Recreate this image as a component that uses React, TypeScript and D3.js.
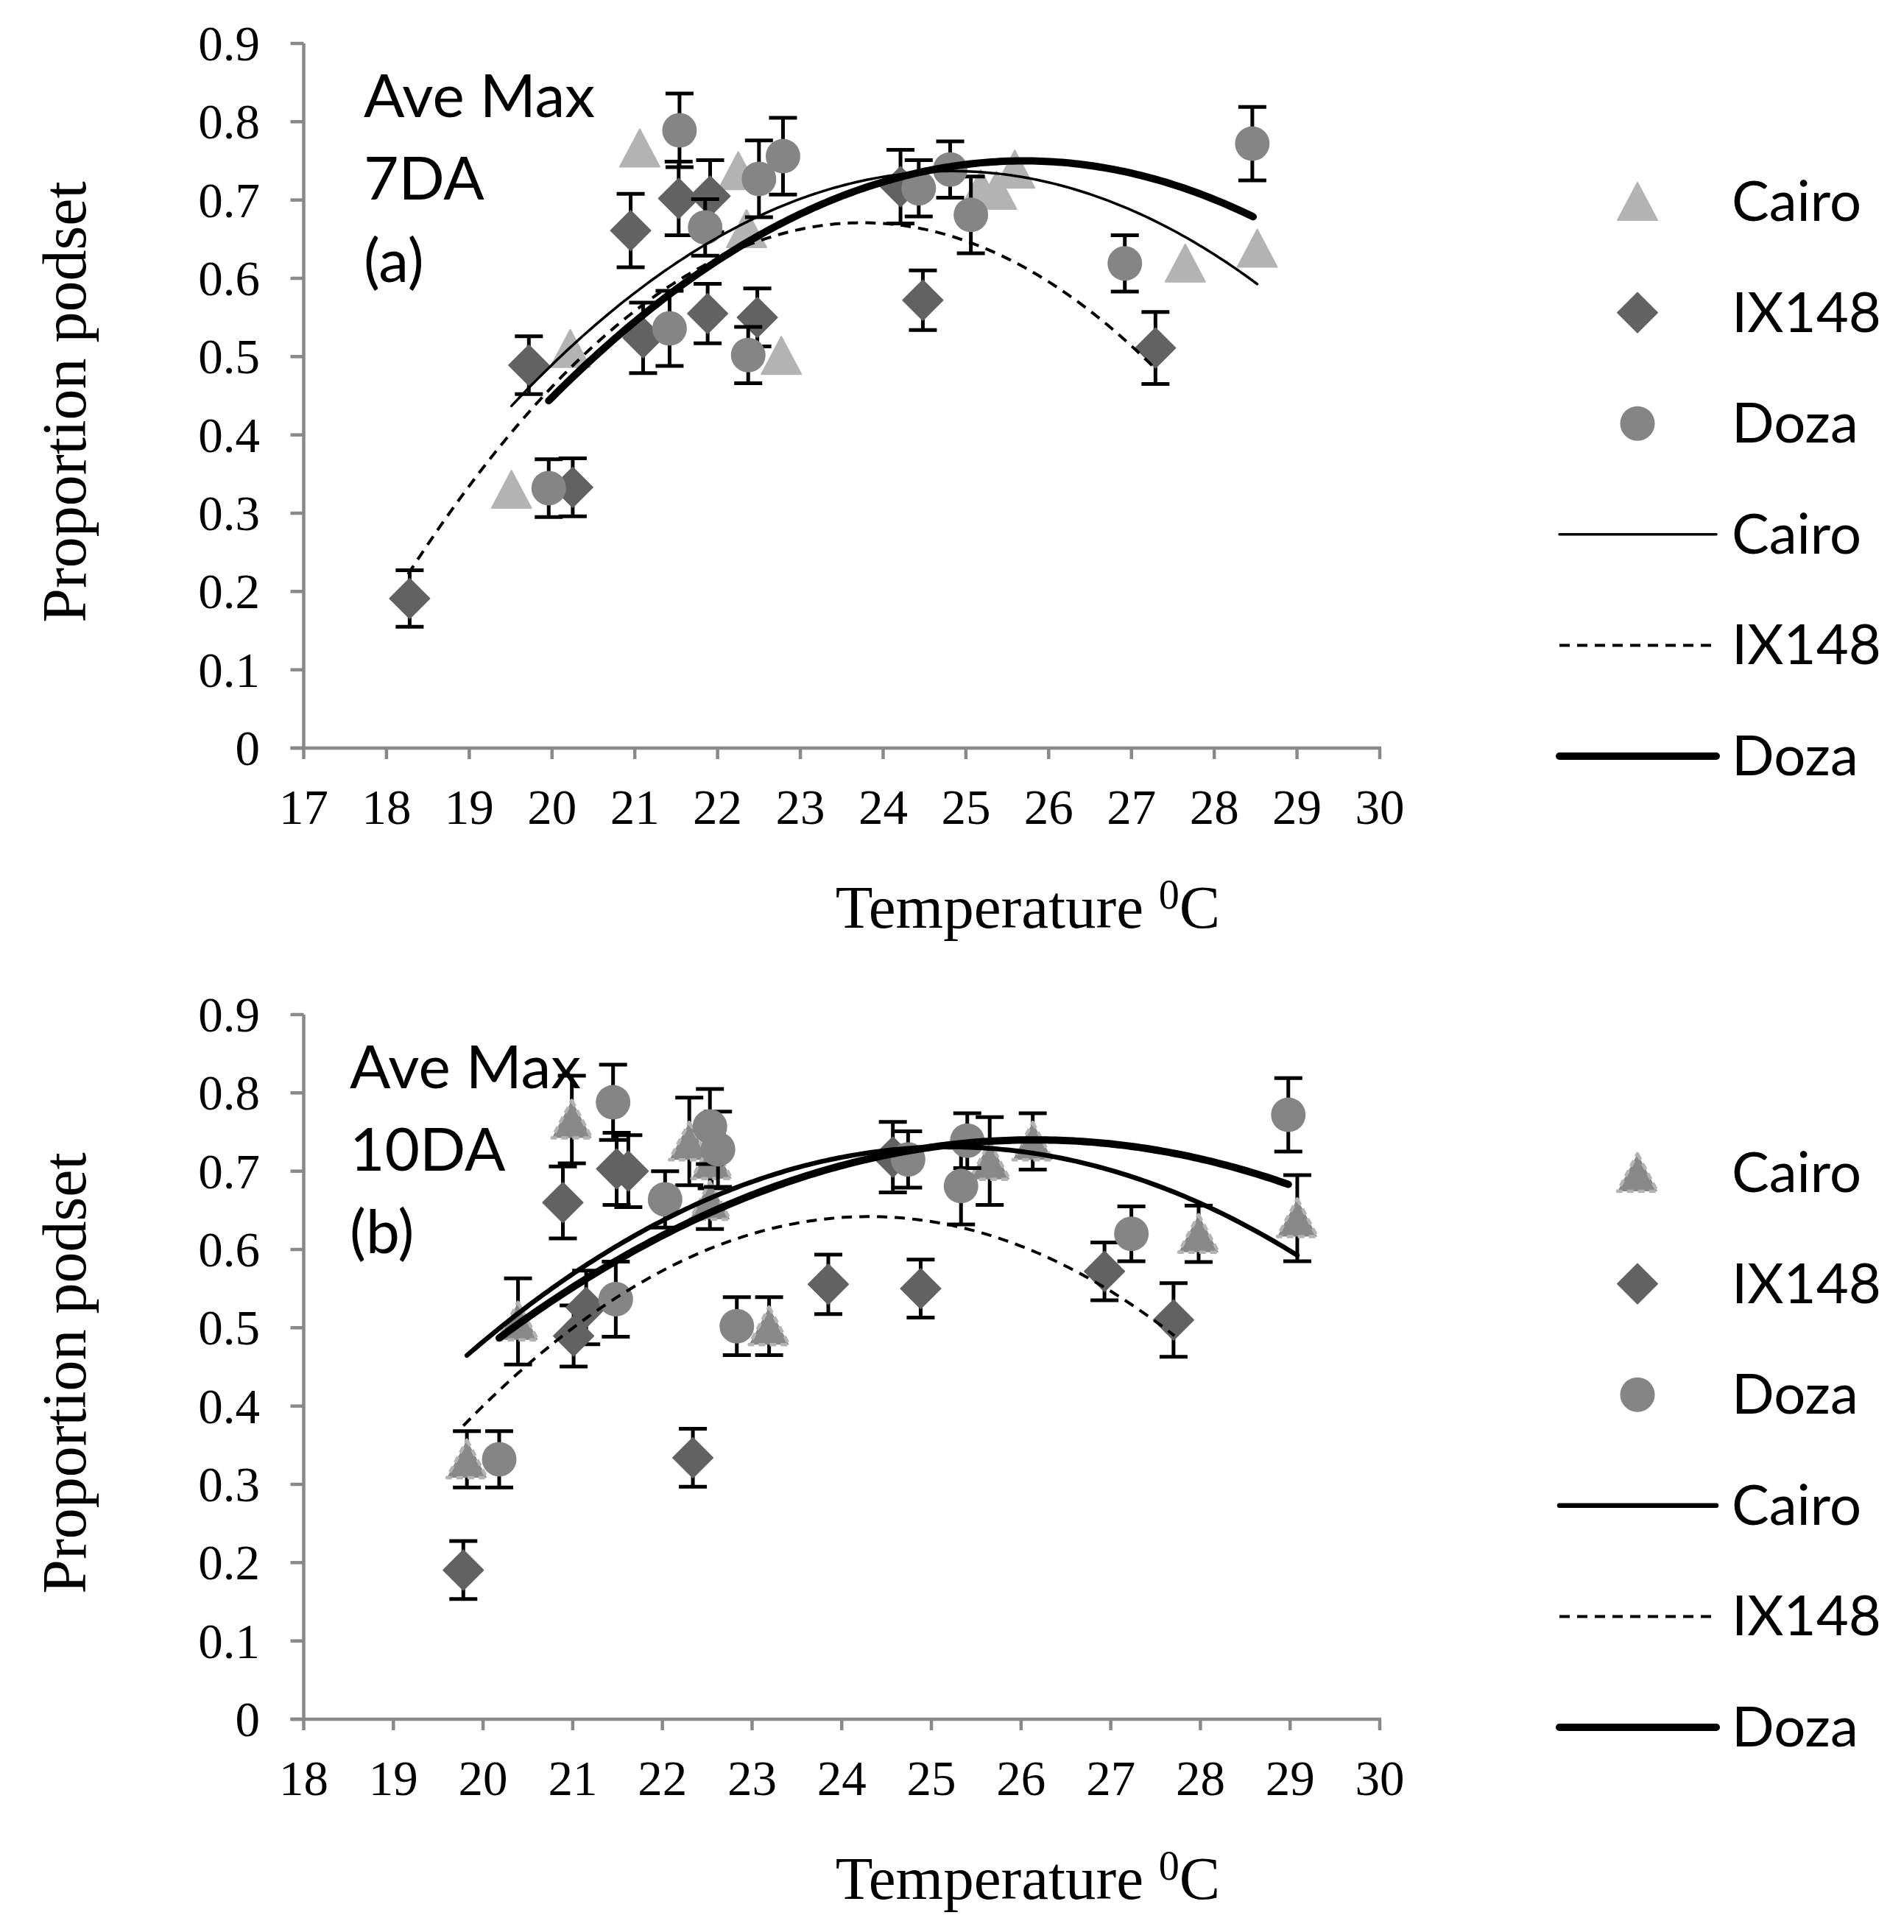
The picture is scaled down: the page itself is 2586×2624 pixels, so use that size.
import React from 'react';
import * as d3 from 'd3';

// ---------- DATA ----------
// [temperature, proportion podset, error]
const cairo7DA: [number, number, number][] = [
  [19.51, 0.33, 0], [20.22, 0.51, 0], [21.06, 0.766, 0], [22.25, 0.737, 0],
  [22.35, 0.663, 0], [22.77, 0.501, 0], [25.18, 0.714, 0], [25.37, 0.712, 0],
  [25.59, 0.739, 0], [27.65, 0.619, 0], [28.52, 0.638, 0],
];
const ix1487DA: [number, number, number][] = [
  [18.28, 0.191, 0.036], [19.72, 0.489, 0.037], [20.25, 0.333, 0.037], [20.95, 0.661, 0.047],
  [21.1, 0.524, 0.045], [21.53, 0.702, 0.047], [21.88, 0.555, 0.038], [21.91, 0.705, 0.046],
  [22.48, 0.55, 0.037], [24.21, 0.717, 0.047], [24.48, 0.572, 0.038], [27.29, 0.511, 0.046],
];
const doza7DA: [number, number, number][] = [
  [19.96, 0.332, 0.037], [21.42, 0.536, 0.048], [21.54, 0.789, 0.047], [21.85, 0.665, 0.036],
  [22.37, 0.502, 0.036], [22.5, 0.727, 0.049], [22.79, 0.756, 0.049], [24.43, 0.715, 0.036],
  [24.81, 0.739, 0.036], [25.06, 0.681, 0.049], [26.92, 0.619, 0.036], [28.46, 0.772, 0.047],
];

const cairo10DA: [number, number, number][] = [
  [19.82, 0.332, 0.036], [20.39, 0.508, 0.055], [20.99, 0.766, 0.056], [22.3, 0.738, 0.056],
  [22.55, 0.714, 0.036], [22.53, 0.662, 0.036], [23.19, 0.502, 0.037], [25.65, 0.713, 0.056],
  [26.13, 0.738, 0.036], [27.98, 0.62, 0.036], [29.08, 0.64, 0.055],
];
const ix14810DA: [number, number, number][] = [
  [19.78, 0.1905, 0.037], [20.89, 0.66, 0.046], [21.01, 0.4895, 0.039], [21.15, 0.526, 0.047],
  [21.49, 0.703, 0.046], [21.62, 0.7, 0.046], [22.34, 0.334, 0.037], [23.85, 0.5555, 0.038],
  [24.57, 0.718, 0.045], [24.88, 0.55, 0.037], [26.93, 0.572, 0.037], [27.7, 0.51, 0.047],
];
const doza10DA: [number, number, number][] = [
  [20.18, 0.332, 0.036], [21.48, 0.5365, 0.048], [21.45, 0.788, 0.048], [22.03, 0.664, 0.036],
  [22.83, 0.502, 0.037], [22.62, 0.728, 0.048], [22.53, 0.757, 0.048], [24.74, 0.715, 0.036],
  [25.4, 0.739, 0.035], [25.33, 0.681, 0.049], [27.23, 0.62, 0.035], [28.98, 0.772, 0.047],
];

// Polynomial (order 2) trendlines: [a, vertexT, vertexP, tStart, tEnd]
const trend7DA = {
  Cairo: [-0.0106, 24.83, 0.737, 19.51, 28.52],
  IX148: [-0.0149, 23.75, 0.671, 18.26, 27.25],
  Doza: [-0.0093, 25.7, 0.75, 19.96, 28.47],
};
const trend10DA = {
  Cairo: [-0.0092, 25.2, 0.731, 19.82, 29.08],
  IX148: [-0.01308, 24.3, 0.642, 19.78, 27.71],
  Doza: [-0.0071, 26.15, 0.74, 20.18, 28.98],
};

const seriesNames = ['Cairo', 'IX148', 'Doza'];
const yTicks = d3.range(0, 0.91, 0.1);
const xTicks7DA = d3.range(17, 31, 1);
const xTicks10DA = d3.range(18, 31, 1);
const annot7DA = ['Ave Max', '7DA', '(a)'];
const annot10DA = ['Ave Max', '10DA', '(b)'];

// ---------- STYLE ----------
const SERIF = '"Liberation Serif", "Times New Roman", serif';
const SANS = 'Lato, "Open Sans", sans-serif';
const AXIS = '#898989';
const C_TRI = '#b3b3b3';
const C_TRI2 = '#888888';
const C_DIA = '#626262';
const C_CIR = '#858585';

const triPath = 'M0,-26 L27,25 L-27,25 Z';
const diaPath = 'M0,-27 L27,0 L0,27 L-27,0 Z';

function Marker({ kind, x, y, dashedTri }: { kind: string; x: number; y: number; dashedTri?: boolean }) {
  if (kind === 'Cairo') {
    return dashedTri ? (
      <path d={triPath} transform={`translate(${x},${y})`} fill={C_TRI2} stroke={C_TRI}
        strokeWidth={4.5} strokeDasharray="9 6" strokeLinejoin="round" />
    ) : (
      <path d={triPath} transform={`translate(${x},${y})`} fill={C_TRI} stroke={C_TRI}
        strokeWidth={2} strokeLinejoin="round" />
    );
  }
  if (kind === 'IX148') {
    return <path d={diaPath} transform={`translate(${x},${y})`} fill={C_DIA} stroke={C_DIA} strokeWidth={2} strokeLinejoin="round" />;
  }
  return <circle cx={x} cy={y} r={23.5} fill={C_CIR} />;
}

const lineStyles: Record<string, any> = {
  Cairo7: { strokeWidth: 3.5, strokeLinecap: 'round' },
  Cairo10: { strokeWidth: 6.5, strokeLinecap: 'round' },
  IX148: { strokeWidth: 4, strokeDasharray: '14 10', strokeLinecap: 'butt' },
  Doza: { strokeWidth: 10, strokeLinecap: 'round' },
};

function Panel(props: {
  xDomain: [number, number]; xTicks: number[]; y0: number; annot: string[]; annotX: number;
  series: Record<string, [number, number, number][]>; trend: Record<string, number[]>; big: boolean;
}) {
  const { xDomain, xTicks, y0, annot, annotX, series, trend, big } = props;
  const x = d3.scaleLinear().domain(xDomain).range([412.5, 1874]);
  const y = d3.scaleLinear().domain([0, 0.9]).range([y0, y0 - 957]);
  const fmt = d3.format('.1~f');

  const trendPath = (c: number[]) => {
    const [a, h, k, t0, t1] = c;
    const ts = d3.range(t0, t1, 0.05).concat([t1]);
    const gen = d3.line<number>().x((t) => x(t)).y((t) => y(a * (t - h) * (t - h) + k));
    return gen(ts) || '';
  };

  return (
    <g>
      {/* axes */}
      <line x1={x(xDomain[0])} x2={x(xDomain[0])} y1={y(0) + 2} y2={y(0.9)} stroke={AXIS} strokeWidth={4.5} />
      <line x1={x(xDomain[0]) - 18} x2={x(xDomain[1]) + 2} y1={y(0)} y2={y(0)} stroke={AXIS} strokeWidth={4.5} />
      {yTicks.map((v) => (
        <g key={'yt' + v}>
          <line x1={x(xDomain[0]) - 18} x2={x(xDomain[0])} y1={y(v)} y2={y(v)} stroke={AXIS} strokeWidth={4.5} />
          <text x={353} y={y(v) + 23} textAnchor="end" fontFamily={SERIF} fontSize={67} fill="#000">{fmt(v)}</text>
        </g>
      ))}
      {xTicks.map((t) => (
        <g key={'xt' + t}>
          <line x1={x(t)} x2={x(t)} y1={y(0)} y2={y(0) + 15} stroke={AXIS} strokeWidth={4.5} />
          <text x={x(t)} y={y(0) + 103} textAnchor="middle" fontFamily={SERIF} fontSize={67} fill="#000">{t}</text>
        </g>
      ))}
      {/* axis titles */}
      <text x={1396} y={y0 + 244} textAnchor="middle" fontFamily={SERIF} fontSize={83} fill="#000">
        Temperature <tspan fontSize={56} dy={-26}>0</tspan><tspan dy={26}>C</tspan>
      </text>
      <text transform={`translate(116,${y0 - 470}) rotate(-90)`} textAnchor="middle" fontFamily={SERIF} fontSize={84} fill="#000">
        Proportion podset
      </text>
      {/* annotation */}
      {annot.map((s, i) => (
        <text key={s} x={annotX} y={y0 - 857 + i * 112} fontFamily={SANS} fontSize={82} fill="#000">{s}</text>
      ))}
      {/* series: error bars then markers */}
      {seriesNames.map((name) => (
        <g key={name}>
          {series[name].filter((d) => d[2] > 0).map((d, i) => (
            <g key={'e' + i} stroke="#000" strokeWidth={5}>
              <line x1={x(d[0])} x2={x(d[0])} y1={y(d[1] - d[2])} y2={y(d[1] + d[2])} />
              <line x1={x(d[0]) - 19} x2={x(d[0]) + 19} y1={y(d[1] + d[2])} y2={y(d[1] + d[2])} />
              <line x1={x(d[0]) - 19} x2={x(d[0]) + 19} y1={y(d[1] - d[2])} y2={y(d[1] - d[2])} />
            </g>
          ))}
          {series[name].map((d, i) => (
            <Marker key={'m' + i} kind={name} x={x(d[0])} y={y(d[1])} dashedTri={big} />
          ))}
        </g>
      ))}
      {/* trendlines */}
      {seriesNames.map((name) => (
        <path key={'tr' + name} d={trendPath(trend[name])} fill="none" stroke="#000"
          {...(name === 'Cairo' ? (big ? lineStyles.Cairo10 : lineStyles.Cairo7) : lineStyles[name])} />
      ))}
      {/* legend */}
      {seriesNames.map((name, i) => {
        const cy = y0 - 742 + i * 150.6;
        return (
          <g key={'lm' + name}>
            <Marker kind={name} x={2224} y={cy} dashedTri={big} />
            <text x={2352} y={cy + 26} fontFamily={SANS} fontSize={76} fill="#000">{name}</text>
          </g>
        );
      })}
      {seriesNames.map((name, i) => {
        const cy = y0 - 742 + (i + 3) * 150.6;
        const st = name === 'Cairo' ? (big ? lineStyles.Cairo10 : lineStyles.Cairo7) : lineStyles[name];
        return (
          <g key={'ll' + name}>
            <line x1={2118} x2={2331} y1={cy} y2={cy} stroke="#000" {...st} />
            <text x={2352} y={cy + 26} fontFamily={SANS} fontSize={76} fill="#000">{name}</text>
          </g>
        );
      })}
    </g>
  );
}

export default function App() {
  const s7 = { Cairo: cairo7DA, IX148: ix1487DA, Doza: doza7DA };
  const s10 = { Cairo: cairo10DA, IX148: ix14810DA, Doza: doza10DA };
  return (
    <svg width={2586} height={2624} viewBox="0 0 2586 2624"
      style={{ position: 'absolute', left: 0, top: 0, background: '#fff' }}>
      <rect x={0} y={0} width={2586} height={2624} fill="#fff" />
      <Panel xDomain={[17, 30]} xTicks={xTicks7DA} y0={1016} annot={annot7DA} annotX={494}
        series={s7} trend={trend7DA} big={false} />
      <Panel xDomain={[18, 30]} xTicks={xTicks10DA} y0={2335} annot={annot10DA} annotX={475}
        series={s10} trend={trend10DA} big={true} />
    </svg>
  );
}
